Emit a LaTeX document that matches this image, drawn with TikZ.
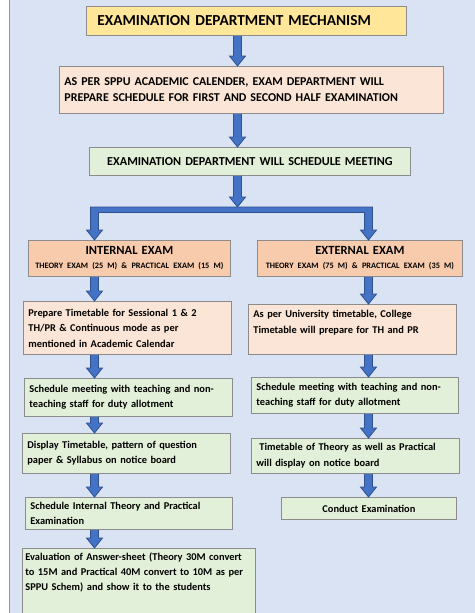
\documentclass[tikz,border=0pt]{standalone}
\usepackage{fontspec}
\setmainfont{Carlito}
\usetikzlibrary{calc}

\definecolor{bgblue}{HTML}{DAE3F3}
\definecolor{edgeblue}{HTML}{8497B0}
\definecolor{boxgray}{HTML}{8C8C8C}
\definecolor{titleyellow}{HTML}{FFE699}
\definecolor{planpeach}{HTML}{FBE5D6}
\definecolor{stepgreen}{HTML}{E2F0D9}
\definecolor{examorange}{HTML}{F8CBAD}
\definecolor{arrowblue}{HTML}{4472C4}
\definecolor{arrowedge}{HTML}{2F528F}

\tikzset{
  box/.style={draw=boxgray, line width=0.8pt, anchor=north west,
    inner xsep=5pt, inner ysep=2pt, align=left},
  stepbox/.style={box, font=\fontsize{10.4}{15.5}\selectfont\bfseries},
  arrowbody/.style={fill=arrowblue, draw=arrowedge, line width=0.8pt, line join=miter}
}

% down block arrow from #1 to #2 (same x)
\newcommand{\blockarrow}[2]{%
  \filldraw[arrowbody] ($(#1)+(-4,0)$) -- ($(#2)+(-4,-10)$) -- ($(#2)+(-8,-10)$) -- (#2)
    -- ($(#2)+(8,-10)$) -- ($(#2)+(4,-10)$) -- ($(#1)+(4,0)$);
}

\begin{document}
\begin{tikzpicture}[x=1pt,y=-1pt]
\useasboundingbox (0,0) rectangle (474,613);
\fill[white] (0,0) rectangle (474,613);
\filldraw[fill=bgblue, draw=edgeblue, line width=1.2pt] (9.5,-5) rectangle (480,620);

% columns of the arrows
\coordinate (mcol) at (237.5,0);
\coordinate (lcol) at (94.5,0);
\coordinate (rcol) at (368.5,0);

% common part
\node[box, fill=titleyellow, text width=298pt, inner xsep=11pt, minimum height=29pt,
  font=\fontsize{15.3}{18}\selectfont\bfseries] (title) at (86,6) {EXAMINATION DEPARTMENT MECHANISM};
\node[box, fill=planpeach, text width=374pt, minimum height=47pt,
  font=\fontsize{12}{16}\selectfont\bfseries] (plan) at (59,66)
  {AS PER SPPU ACADEMIC CALENDER, EXAM DEPARTMENT WILL\\PREPARE SCHEDULE FOR FIRST AND SECOND HALF EXAMINATION};
\node[box, fill=stepgreen, text width=311pt, minimum height=28pt, align=center,
  font=\fontsize{12.2}{15}\selectfont\bfseries] (meeting) at (89,147) {EXAMINATION DEPARTMENT WILL SCHEDULE MEETING};
\coordinate (split) at (237.5,207);

\node[box, fill=examorange, text width=192pt, minimum height=36pt, align=center,
  font=\fontsize{12.5}{14}\selectfont\bfseries] (internal) at (28,240)
  {INTERNAL EXAM\\{\fontsize{8.3}{9}\selectfont THEORY EXAM (25 M) \& PRACTICAL EXAM (15 M)}};
\node[box, fill=examorange, text width=195pt, minimum height=36pt, align=center,
  font=\fontsize{12.5}{14}\selectfont\bfseries] (external) at (257,240)
  {EXTERNAL EXAM\\{\fontsize{8.3}{9}\selectfont THEORY EXAM (75 M) \& PRACTICAL EXAM (35 M)}};

% internal exam column
\node[stepbox, fill=planpeach, text width=198pt, minimum height=53pt] (l1) at (23,301)
  {Prepare Timetable for Sessional 1 \& 2\\TH/PR \& Continuous mode as per\\mentioned in Academic Calendar};
\node[stepbox, fill=stepgreen, text width=198pt, minimum height=38pt] (l2) at (24,378)
  {Schedule meeting with teaching and non-\\teaching staff for duty allotment};
\node[stepbox, fill=stepgreen, text width=198pt, minimum height=40pt] (l3) at (22,433)
  {Display Timetable, pattern of question\\paper \& Syllabus on notice board};
\node[stepbox, fill=stepgreen, text width=197pt, minimum height=32pt] (l4) at (25,497)
  {Schedule Internal Theory and Practical\\Examination};
\node[stepbox, fill=stepgreen, text width=227pt, inner xsep=3pt, minimum height=77pt,
  font=\fontsize{10.4}{15}\selectfont\bfseries] (l5) at (22,548)
  {Evaluation of Answer-sheet (Theory 30M convert\\to 15M and Practical 40M convert to 10M as per\\SPPU Schem) and show it to the students\\\mbox{}\\\mbox{}};

% external exam column
\node[stepbox, fill=planpeach, text width=198pt, minimum height=50pt] (r1) at (248,304)
  {As per University timetable, College\\Timetable will prepare for TH and PR\\\mbox{}};
\node[stepbox, fill=stepgreen, text width=197pt, minimum height=36pt] (r2) at (251,377)
  {Schedule meeting with teaching and non-\\teaching staff for duty allotment};
\node[stepbox, fill=stepgreen, text width=198pt, minimum height=35pt] (r3) at (251,438)
  {\hspace*{3pt}Timetable of Theory as well as Practical\\will display on notice board};
\node[stepbox, fill=stepgreen, text width=165pt, minimum height=22pt, align=center] (r4) at (281,497)
  {Conduct Examination};

% arrows
\blockarrow{title.south -| mcol}{plan.north -| mcol}
\blockarrow{plan.south -| mcol}{meeting.north -| mcol}
\blockarrow{meeting.south -| mcol}{split}
\coordinate (ltip) at (internal.north -| lcol);
\coordinate (rtip) at (external.north -| rcol);
\filldraw[arrowbody] ($(split -| lcol)+(-4,0)$) -- ($(split -| rcol)+(4,0)$) -- ($(rtip)+(4,-10)$)
  -- ($(rtip)+(8,-10)$) -- (rtip) -- ($(rtip)+(-8,-10)$) -- ($(rtip)+(-4,-10)$)
  -- ($(split -| rcol)+(-4,5.5)$) -- ($(split -| lcol)+(4,5.5)$) -- ($(ltip)+(4,-10)$)
  -- ($(ltip)+(8,-10)$) -- (ltip) -- ($(ltip)+(-8,-10)$) -- ($(ltip)+(-4,-10)$) -- cycle;
\blockarrow{internal.south -| lcol}{l1.north -| lcol}
\blockarrow{l1.south -| lcol}{l2.north -| lcol}
\blockarrow{l2.south -| lcol}{l3.north -| lcol}
\blockarrow{l3.south -| lcol}{l4.north -| lcol}
\blockarrow{l4.south -| lcol}{l5.north -| lcol}
\blockarrow{external.south -| rcol}{r1.north -| rcol}
\blockarrow{r1.south -| rcol}{r2.north -| rcol}
\blockarrow{r2.south -| rcol}{r3.north -| rcol}
\blockarrow{r3.south -| rcol}{r4.north -| rcol}
\end{tikzpicture}
\end{document}
